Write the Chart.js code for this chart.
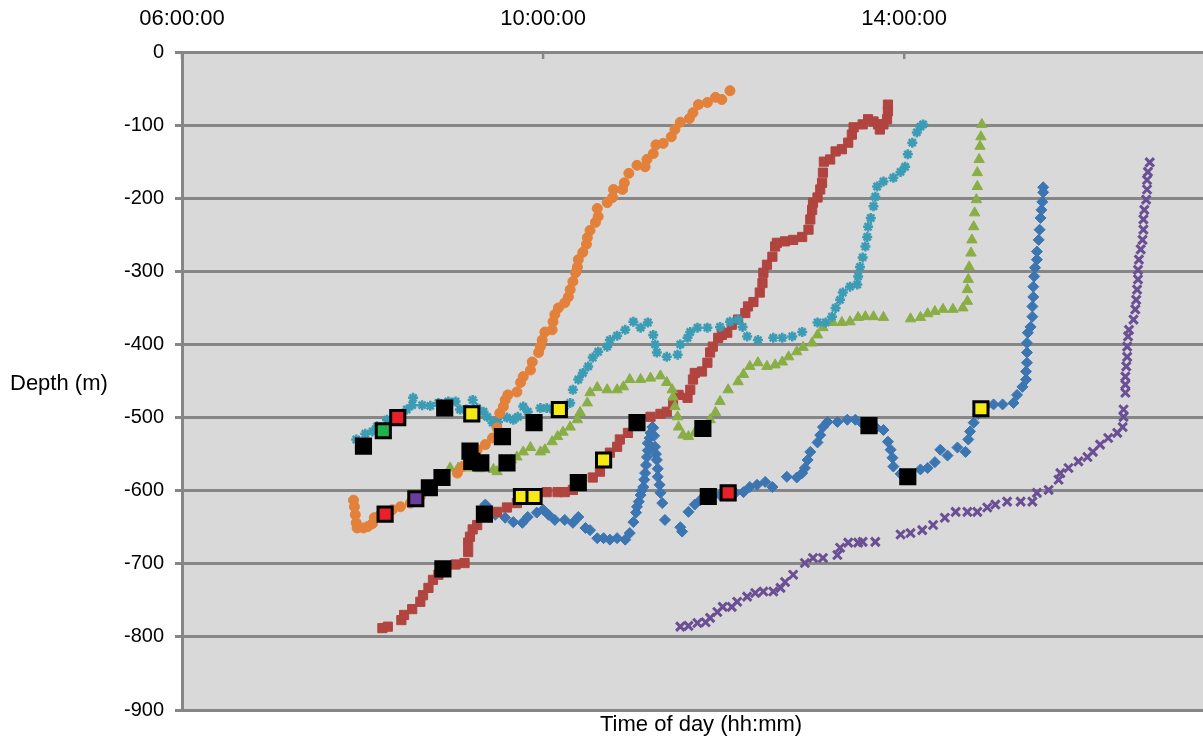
<!DOCTYPE html>
<html>
<head>
<meta charset="utf-8">
<script src="https://cdn.jsdelivr.net/npm/chart.js@4.4.1/dist/chart.umd.min.js"></script>
<style>
  body { margin: 0; background: #fff; }
  #wrap { position: relative; width: 1203px; height: 739px; }
  .lbl { position: absolute; font: 22px 'Liberation Sans', Arial, sans-serif; color: #000; white-space: nowrap; }
  #ylabel { left: 10px; top: 370px; }
  #xlabel { left: 600px; top: 711px; }
</style>
</head>
<body>
<div id="wrap">
  <canvas id="dives" width="1203" height="739"></canvas>
  <div id="ylabel" class="lbl">Depth (m)</div>
  <div id="xlabel" class="lbl">Time of day (hh:mm)</div>
</div>
<script>
// time of day in decimal hours, depth in metres
const xTicks = [6, 10, 14];

const blueDive = [[9.36,-619],[9.41,-626],[9.47,-633],[9.58,-637],[9.67,-643],[9.77,-644],[9.83,-636],[9.93,-630],[10.00,-626],[10.06,-633],[10.13,-640],[10.24,-640],[10.33,-644],[10.39,-636],[10.47,-651],[10.52,-654],[10.60,-665],[10.67,-665],[10.74,-667],[10.82,-665],[10.91,-667],[10.96,-658],[11.00,-643],[11.03,-630],[11.04,-622],[11.06,-615],[11.08,-606],[11.09,-600],[11.11,-595],[11.12,-585],[11.13,-576],[11.14,-565],[11.15,-554],[11.16,-545],[11.16,-535],[11.18,-528],[11.19,-521],[11.21,-513],[11.22,-514],[11.23,-525],[11.24,-540],[11.25,-550],[11.26,-558],[11.27,-570],[11.27,-581],[11.29,-592],[11.30,-603],[11.32,-617],[11.35,-640],[11.52,-650],[11.54,-656],[11.61,-629],[11.68,-619],[11.74,-613],[11.87,-608],[11.96,-606],[12.13,-603],[12.22,-602],[12.29,-595],[12.37,-592],[12.46,-588],[12.54,-595],[12.70,-581],[12.81,-582],[12.87,-576],[12.90,-569],[12.93,-558],[12.96,-547],[13.04,-534],[13.07,-524],[13.10,-513],[13.15,-506],[13.26,-506],[13.37,-503],[13.46,-503],[13.54,-509],[13.69,-514],[13.77,-517],[13.82,-533],[13.85,-544],[13.87,-555],[13.88,-567],[13.96,-577],[14.04,-580],[14.18,-571],[14.26,-569],[14.34,-561],[14.40,-544],[14.48,-552],[14.59,-541],[14.68,-547],[14.71,-530],[14.73,-519],[14.77,-507],[14.82,-495],[14.90,-485],[14.99,-482],[15.09,-482],[15.21,-480],[15.25,-469],[15.31,-458],[15.35,-448],[15.35,-437],[15.36,-425],[15.36,-411],[15.36,-398],[15.37,-384],[15.40,-376],[15.42,-362],[15.42,-348],[15.43,-335],[15.43,-321],[15.44,-307],[15.45,-295],[15.47,-284],[15.47,-273],[15.49,-257],[15.50,-243],[15.51,-227],[15.52,-216],[15.53,-205],[15.54,-192],[15.54,-185]];

const redDive = [[8.22,-788],[8.28,-786],[8.43,-777],[8.46,-770],[8.55,-762],[8.64,-752],[8.67,-743],[8.73,-733],[8.78,-722],[8.84,-715],[8.89,-708],[9.03,-701],[9.13,-699],[9.17,-684],[9.17,-671],[9.19,-663],[9.22,-653],[9.27,-647],[9.34,-633],[9.49,-629],[9.60,-623],[9.71,-617],[9.76,-610],[9.90,-610],[10.04,-602],[10.16,-602],[10.24,-602],[10.33,-599],[10.39,-589],[10.55,-582],[10.63,-574],[10.67,-558],[10.74,-548],[10.82,-540],[10.85,-530],[10.94,-521],[11.04,-507],[11.19,-499],[11.30,-495],[11.37,-492],[11.44,-480],[11.50,-469],[11.60,-473],[11.63,-462],[11.66,-448],[11.68,-439],[11.76,-437],[11.82,-425],[11.85,-411],[11.88,-403],[11.94,-391],[11.98,-387],[12.04,-384],[12.09,-373],[12.16,-366],[12.24,-357],[12.27,-348],[12.33,-342],[12.40,-329],[12.43,-316],[12.44,-302],[12.48,-291],[12.54,-280],[12.57,-266],[12.59,-261],[12.68,-259],[12.77,-257],[12.87,-253],[12.94,-243],[12.96,-229],[12.98,-216],[12.99,-206],[13.04,-199],[13.07,-188],[13.09,-179],[13.10,-165],[13.11,-150],[13.18,-147],[13.24,-136],[13.31,-133],[13.38,-124],[13.42,-113],[13.44,-103],[13.54,-99],[13.60,-92],[13.66,-95],[13.71,-99],[13.73,-106],[13.77,-99],[13.81,-92],[13.82,-81],[13.82,-72]];

const greenDive = [[8.97,-569],[9.06,-569],[9.17,-569],[9.30,-570],[9.45,-571],[9.49,-574],[9.58,-565],[9.65,-558],[9.71,-554],[9.78,-547],[9.86,-541],[9.97,-547],[10.02,-544],[10.10,-533],[10.16,-526],[10.22,-520],[10.30,-513],[10.38,-503],[10.41,-493],[10.49,-480],[10.52,-466],[10.60,-459],[10.71,-462],[10.82,-462],[10.89,-458],[10.96,-448],[11.08,-448],[11.19,-446],[11.30,-443],[11.37,-452],[11.43,-462],[11.44,-472],[11.46,-485],[11.49,-499],[11.50,-513],[11.55,-524],[11.61,-526],[11.68,-521],[11.85,-503],[11.91,-493],[11.96,-478],[12.05,-462],[12.16,-451],[12.22,-441],[12.29,-430],[12.38,-425],[12.48,-430],[12.57,-428],[12.65,-424],[12.72,-417],[12.81,-410],[12.88,-404],[12.98,-398],[13.04,-387],[13.10,-377],[13.21,-370],[13.31,-370],[13.40,-369],[13.49,-363],[13.57,-362],[13.66,-362],[13.77,-363],[14.07,-365],[14.18,-363],[14.26,-358],[14.34,-355],[14.43,-352],[14.54,-352],[14.65,-350],[14.70,-341],[14.70,-325],[14.71,-311],[14.72,-294],[14.74,-275],[14.75,-257],[14.77,-239],[14.78,-220],[14.80,-202],[14.81,-184],[14.81,-165],[14.83,-147],[14.84,-129],[14.85,-116],[14.86,-99]];

const purpleDive = [[11.52,-786],[11.61,-785],[11.71,-781],[11.80,-780],[11.85,-774],[11.93,-766],[11.99,-759],[12.09,-759],[12.15,-752],[12.26,-745],[12.35,-740],[12.44,-738],[12.55,-738],[12.63,-733],[12.68,-725],[12.77,-715],[12.90,-699],[12.99,-692],[13.10,-692],[13.26,-688],[13.29,-678],[13.38,-671],[13.49,-671],[13.54,-670],[13.68,-670],[13.96,-660],[14.07,-658],[14.20,-654],[14.32,-647],[14.45,-637],[14.57,-629],[14.70,-629],[14.81,-629],[14.92,-623],[15.01,-619],[15.14,-615],[15.29,-615],[15.42,-615],[15.47,-603],[15.60,-599],[15.71,-585],[15.73,-576],[15.82,-569],[15.93,-560],[16.03,-554],[16.09,-547],[16.17,-537],[16.26,-528],[16.36,-521],[16.42,-513],[16.43,-499],[16.43,-489],[16.45,-466],[16.45,-455],[16.45,-444],[16.46,-430],[16.47,-417],[16.47,-403],[16.48,-389],[16.49,-380],[16.54,-366],[16.56,-352],[16.57,-339],[16.58,-325],[16.59,-311],[16.59,-298],[16.60,-284],[16.62,-270],[16.64,-257],[16.65,-243],[16.65,-229],[16.66,-216],[16.68,-202],[16.69,-188],[16.69,-175],[16.70,-164],[16.72,-151]];

const tealDive = [[7.93,-530],[8.03,-522],[8.11,-519],[8.16,-512],[8.27,-503],[8.39,-498],[8.49,-489],[8.55,-483],[8.56,-473],[8.66,-483],[8.75,-484],[8.84,-480],[8.95,-478],[9.03,-478],[9.08,-489],[9.15,-489],[9.22,-476],[9.27,-487],[9.34,-492],[9.38,-499],[9.44,-507],[9.50,-506],[9.60,-500],[9.67,-503],[9.72,-499],[9.78,-485],[9.83,-492],[9.97,-487],[10.04,-487],[10.11,-489],[10.24,-484],[10.30,-480],[10.33,-462],[10.39,-448],[10.44,-439],[10.50,-430],[10.55,-418],[10.61,-410],[10.71,-403],[10.74,-394],[10.82,-388],[10.91,-380],[11.00,-369],[11.08,-377],[11.16,-370],[11.22,-387],[11.24,-400],[11.26,-411],[11.37,-417],[11.49,-414],[11.52,-400],[11.60,-391],[11.63,-383],[11.71,-377],[11.82,-377],[11.96,-376],[12.07,-369],[12.16,-366],[12.21,-376],[12.26,-389],[12.38,-394],[12.55,-391],[12.65,-391],[12.76,-389],[12.87,-383],[13.04,-370],[13.13,-370],[13.20,-362],[13.24,-350],[13.29,-339],[13.32,-329],[13.40,-321],[13.48,-318],[13.49,-307],[13.51,-294],[13.54,-281],[13.57,-266],[13.59,-253],[13.60,-239],[13.63,-227],[13.66,-211],[13.68,-198],[13.70,-184],[13.77,-177],[13.88,-172],[13.96,-164],[14.01,-157],[14.04,-140],[14.09,-124],[14.14,-110],[14.18,-102],[14.21,-99]];

const orangeDive = [[7.90,-613],[7.91,-622],[7.92,-633],[7.93,-644],[7.94,-651],[8.01,-651],[8.06,-649],[8.11,-645],[8.13,-637],[8.19,-634],[8.33,-626],[8.42,-622],[8.53,-617],[8.64,-608],[8.75,-599],[8.91,-585],[9.05,-576],[9.11,-567],[9.19,-558],[9.27,-544],[9.36,-537],[9.44,-528],[9.49,-514],[9.52,-494],[9.56,-485],[9.58,-476],[9.61,-469],[9.71,-465],[9.75,-452],[9.78,-444],[9.86,-435],[9.88,-424],[9.95,-411],[9.97,-403],[9.99,-394],[10.02,-383],[10.10,-380],[10.11,-369],[10.13,-359],[10.17,-350],[10.24,-343],[10.28,-335],[10.30,-325],[10.33,-314],[10.36,-302],[10.38,-294],[10.39,-284],[10.44,-274],[10.48,-263],[10.49,-254],[10.52,-244],[10.58,-233],[10.61,-225],[10.60,-214],[10.71,-206],[10.77,-199],[10.78,-188],[10.88,-188],[10.90,-179],[10.95,-166],[11.04,-155],[11.13,-157],[11.15,-147],[11.22,-139],[11.25,-127],[11.33,-125],[11.42,-116],[11.46,-106],[11.52,-96],[11.62,-91],[11.66,-83],[11.72,-72],[11.82,-69],[11.91,-62],[11.98,-65],[12.07,-53]];

// event markers laid over the dives
const blackMarks = [[8.01,-539],[8.91,-487],[9.19,-546],[9.21,-560],[9.31,-562],[9.55,-526],[9.60,-562],[9.90,-507],[8.74,-596],[8.88,-582],[9.35,-632],[8.89,-707],[10.39,-589],[11.04,-507],[11.77,-515],[11.83,-608],[13.61,-511],[14.04,-581]];
const yellowMarks = [[9.21,-495],[10.18,-489],[9.76,-608],[9.90,-608],[10.67,-558],[14.85,-488]];
const redMarks = [[8.39,-500],[8.25,-632],[12.05,-603]];
const greenMarks = [[8.23,-518]];
const purpleMarks = [[8.59,-611]];

const toXY = arr => arr.map(p => ({ x: p[0], y: p[1] }));

function marks(arr, fill) {
  return {
    data: toXY(arr),
    pointStyle: 'rect',
    pointRadius: 10,
    pointBackgroundColor: fill,
    pointBorderColor: '#000',
    pointBorderWidth: 3,
    showLine: false
  };
}

function dive(arr, color, style, radius, bw) {
  return {
    data: toXY(arr),
    pointStyle: style,
    pointRadius: radius,
    pointBackgroundColor: color,
    pointBorderColor: color,
    pointBorderWidth: bw,
    showLine: false
  };
}

const plotBg = {
  id: 'plotBg',
  beforeDraw(chart) {
    const { ctx, chartArea: a } = chart;
    ctx.save();
    ctx.fillStyle = '#d9d9d9';
    ctx.fillRect(a.left, a.top, a.right - a.left, a.bottom - a.top);
    ctx.restore();
  },
  afterDraw(chart) {
    // small inward tick marks on the top time axis
    const { ctx, chartArea: a, scales } = chart;
    ctx.save();
    ctx.strokeStyle = '#868686';
    ctx.lineWidth = 2.5;
    xTicks.forEach(v => {
      const px = scales.x.getPixelForValue(v);
      ctx.beginPath();
      ctx.moveTo(px, a.top);
      ctx.lineTo(px, a.top + 7);
      ctx.stroke();
    });
    ctx.restore();
  }
};

Chart.defaults.font.family = "'Liberation Sans', Arial, sans-serif";
Chart.defaults.color = '#000';

new Chart(document.getElementById('dives'), {
  type: 'scatter',
  data: {
    datasets: [
      marks(yellowMarks, '#f5ea14'),
      marks(redMarks, '#e8202a'),
      marks(greenMarks, '#22b04b'),
      marks(purpleMarks, '#6a3d9a'),
      marks(blackMarks, '#000'),
      dive(orangeDive, '#e3813a', 'circle', 5, 1),
      dive(tealDive, '#3a9cb5', 'star', 5, 2.5),
      dive(purpleDive, '#6b4f94', 'crossRot', 6, 3),
      dive(greenDive, '#8aae46', 'triangle', 6, 1),
      dive(redDive, '#b1443f', 'rect', 6.5, 1),
      dive(blueDive, '#3b75b2', 'rectRot', 5.5, 1)
    ]
  },
  options: {
    responsive: false,
    animation: false,
    layout: { autoPadding: false, padding: { left: 0, right: 0, top: 0, bottom: 29 } },
    plugins: {
      legend: { display: false },
      tooltip: { enabled: false }
    },
    scales: {
      x: {
        type: 'linear',
        position: 'top',
        min: 6,
        max: 17.31,
        afterBuildTicks: s => { s.ticks = xTicks.map(v => ({ value: v })); },
        afterFit: s => { s.height = 52; s.paddingLeft = 0; s.paddingRight = 0; },
        ticks: {
          font: { size: 22 },
          maxRotation: 0,
          autoSkip: false,
          padding: 20,
          callback: v => String(v).padStart(2, '0') + ':00:00'
        },
        grid: { display: false, drawTicks: false },
        border: { color: '#868686', width: 3 }
      },
      y: {
        min: -900,
        max: 0,
        afterFit: s => { s.width = 182; s.paddingTop = 0; s.paddingBottom = 0; },
        ticks: { stepSize: 100, font: { size: 20 }, padding: 11 },
        grid: { color: '#868686', lineWidth: 3, tickLength: 7 },
        border: { color: '#868686', width: 3 }
      }
    }
  },
  plugins: [plotBg]
});
</script>
</body>
</html>
